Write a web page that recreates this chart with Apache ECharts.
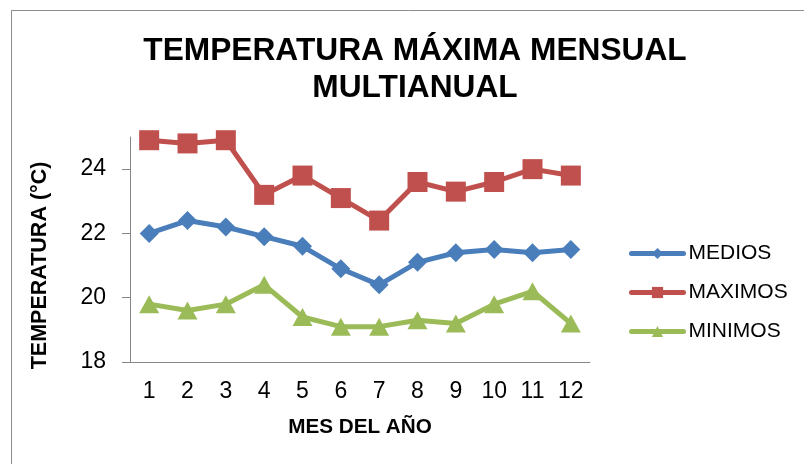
<!DOCTYPE html>
<html>
<head>
<meta charset="utf-8">
<script src="https://cdn.jsdelivr.net/npm/echarts@6/dist/echarts.min.js"></script>
<style>
  html, body { margin: 0; padding: 0; background: #fff; }
  #chart { width: 804px; height: 464px; }
</style>
</head>
<body>
<div id="chart"></div>
<script>
// Monthly maximum temperature (multi-year), °C
const meses = ['1', '2', '3', '4', '5', '6', '7', '8', '9', '10', '11', '12'];
const medios = [22.0, 22.4, 22.2, 21.9, 21.6, 20.9, 20.4, 21.1, 21.4, 21.5, 21.4, 21.5];
const maximos = [24.9, 24.8, 24.9, 23.2, 23.8, 23.1, 22.4, 23.6, 23.3, 23.6, 24.0, 23.8];
const minimos = [19.8, 19.6, 19.8, 20.4, 19.4, 19.1, 19.1, 19.3, 19.2, 19.8, 20.2, 19.2];
const yTicks = [18, 20, 22, 24];

const FONT = '"Liberation Sans", Arial, sans-serif';
const AXIS_GRAY = '#868686';

const chart = echarts.init(document.getElementById('chart'), null, { renderer: 'canvas' });

function lineSeries(name, data, color, symbol, size) {
  return {
    name: name,
    type: 'line',
    data: data,
    symbol: symbol,
    symbolSize: size,
    showAllSymbol: true,
    lineStyle: { color: color, width: 5 },
    itemStyle: { color: color },
    emphasis: { disabled: true },
    animation: false
  };
}

chart.setOption({
  backgroundColor: '#fff',
  animation: false,
  title: {
    text: 'TEMPERATURA MÁXIMA MENSUAL\nMULTIANUAL',
    left: 410,
    top: 28,
    textAlign: 'center',
    textStyle: {
      fontFamily: FONT,
      fontWeight: 'bold',
      fontSize: 31.7,
      lineHeight: 37,
      color: '#000'
    }
  },
  graphic: [{
    type: 'rect',
    shape: { x: 11.5, y: 10.5, width: 800, height: 460 },
    style: { fill: null, stroke: '#8c8c8c', lineWidth: 1 },
    silent: true
  }],
  legend: {
    orient: 'vertical',
    left: 624,
    top: 238,
    itemWidth: 52,
    itemHeight: 14,
    itemGap: 18,
    lineStyle: { width: 5, cap: 'round' },
    textStyle: { fontFamily: FONT, fontSize: 21, lineHeight: 20, color: '#000' },
    data: ['MEDIOS', 'MAXIMOS', 'MINIMOS']
  },
  grid: { left: 130, right: 214, top: 137, bottom: 102 },
  xAxis: {
    type: 'category',
    data: meses,
    boundaryGap: true,
    name: 'MES DEL AÑO',
    nameLocation: 'middle',
    nameGap: 55,
    nameTextStyle: { fontFamily: FONT, fontWeight: 'bold', fontSize: 20.7, color: '#000' },
    axisLine: { lineStyle: { color: AXIS_GRAY, width: 1 } },
    axisTick: { show: false },
    axisLabel: { fontFamily: FONT, fontSize: 23, color: '#000', margin: 18 },
    splitLine: { show: false }
  },
  yAxis: {
    type: 'value',
    min: 18,
    max: 25,
    interval: 2,
    name: 'TEMPERATURA (°C)',
    nameLocation: 'middle',
    nameGap: 79,
    nameTextStyle: { fontFamily: FONT, fontWeight: 'bold', fontSize: 21.5, color: '#000', padding: [0, 32, 0, 0] },
    axisLine: { show: true, lineStyle: { color: AXIS_GRAY, width: 1 } },
    axisTick: { show: true, length: 8, customValues: yTicks, lineStyle: { color: AXIS_GRAY } },
    axisLabel: { fontFamily: FONT, fontSize: 23, color: '#000', margin: 24, customValues: yTicks },
    splitLine: { show: false }
  },
  series: [
    lineSeries('MEDIOS', medios, '#4a7ebb', 'diamond', [19, 19]),
    lineSeries('MAXIMOS', maximos, '#c0504d', 'rect', [20, 20]),
    lineSeries('MINIMOS', minimos, '#9bbb59', 'triangle', [20, 18])
  ]
});
</script>
</body>
</html>
